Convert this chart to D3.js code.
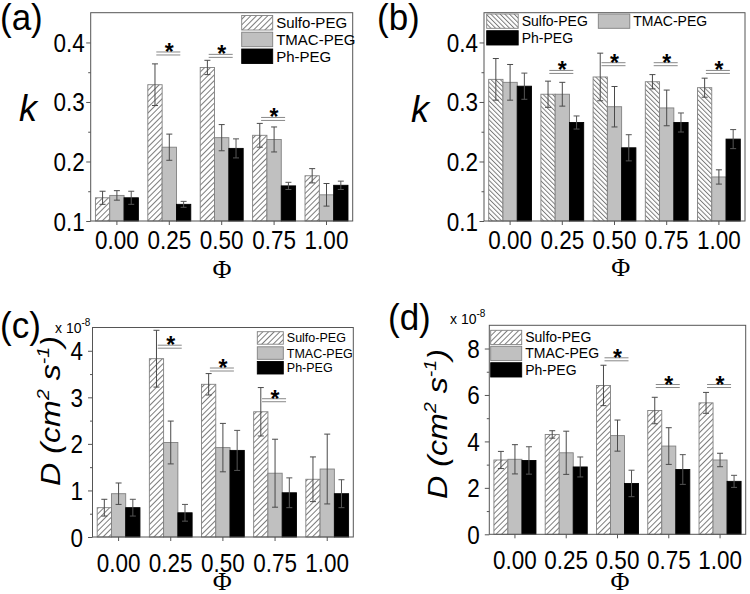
<!DOCTYPE html>
<html><head><meta charset="utf-8">
<script src="https://cdn.jsdelivr.net/npm/d3@7"></script>
<style>body{margin:0;background:#fff} svg{display:block;font-family:"Liberation Sans",Arial,sans-serif}</style>
</head><body><svg id="c" width="750" height="594"></svg>
<script>
// ---------- data ----------
const categories = ["0.00","0.25","0.50","0.75","1.00"];
const seriesNames = ["Sulfo-PEG","TMAC-PEG","Ph-PEG"];

// (a) k
const aSulfo = [0.139,0.329,0.358,0.244,0.176];
const aSulfoErr = [0.011,0.035,0.012,0.020,0.012];
const aTmac = [0.143,0.224,0.240,0.237,0.144];
const aTmacErr = [0.008,0.022,0.022,0.021,0.019];
const aPh = [0.139,0.128,0.222,0.159,0.160];
const aPhErr = [0.011,0.005,0.016,0.006,0.007];
const aSig = [[1,0.384],[2,0.380],[3,0.274]];
const aTicks = [0.1,0.2,0.3,0.4];
const aMinor = [0.15,0.25,0.35];

// (b) k
const bSulfo = [0.338,0.313,0.342,0.334,0.324];
const bSulfoErr = [0.035,0.022,0.040,0.012,0.016];
const bTmac = [0.333,0.313,0.292,0.290,0.174];
const bTmacErr = [0.030,0.020,0.034,0.030,0.012];
const bPh = [0.3265,0.2655,0.223,0.2655,0.2376];
const bPhErr = [0.022,0.011,0.022,0.016,0.016];
const bSig = [[1,0.353],[2,0.366],[3,0.366],[4,0.353]];
const bTicks = [0.1,0.2,0.3,0.4];
const bMinor = [0.15,0.25,0.35];

// (c) D x1e-8
const cSulfo = [0.63,3.83,3.28,2.69,1.24];
const cSulfoErr = [0.18,0.61,0.23,0.52,0.48];
const cTmac = [0.93,2.03,1.92,1.37,1.46];
const cTmacErr = [0.23,0.46,0.52,0.73,0.75];
const cPh = [0.63,0.52,1.86,0.95,0.93];
const cPhErr = [0.18,0.18,0.43,0.32,0.30];
const cSig = [[1,4.12],[2,3.63],[3,2.97]];
const cTicks = [0,1,2,3,4];
const cMinor = [0.5,1.5,2.5,3.5];

// (d) D x1e-8
const dSulfo = [3.20,4.30,6.41,5.33,5.66];
const dSulfoErr = [0.37,0.16,0.87,0.57,0.45];
const dTmac = [3.23,3.51,4.25,3.80,3.20];
const dTmacErr = [0.63,0.93,0.67,0.79,0.29];
const dPh = [3.18,2.90,2.19,2.79,2.28];
const dPhErr = [0.59,0.43,0.57,0.64,0.26];
const dSig = [[2,7.60],[3,6.45],[4,6.45]];
const dTicks = [0,2,4,6,8];
const dMinor = [1,3,5,7];

// ---------- setup ----------
const svg = d3.select("#c");
const defs = svg.append("defs");
function hatch(id, angle, spacing){
  const p = defs.append("pattern").attr("id",id).attr("patternUnits","userSpaceOnUse")
    .attr("width",spacing).attr("height",spacing).attr("patternTransform",`rotate(${angle})`);
  p.append("rect").attr("width",spacing).attr("height",spacing).attr("fill","#fff");
  p.append("line").attr("x1",0.5).attr("y1",-1).attr("x2",0.5).attr("y2",spacing+1)
    .attr("stroke","#6e6e6e").attr("stroke-width",0.9);
}
hatch("hatchF",45,4.0);
hatch("hatchB",-45,3.3);

const AX = "#555";
const TICKFS = 22.5;
const fills = (h)=>[`url(#${h})`,"#c0c0c0","#000"];

const panels = [
  {label:"(a)", lpos:[0,30], box:[90.7,12.7,352.7,221], domain:[0.1,0.45], ticks:aTicks, minor:aMinor, fmt:d3.format(".1f"),
   vals:[aSulfo,aTmac,aPh], errs:[aSulfoErr,aTmacErr,aPhErr], sig:aSig, hatch:"hatchF", tickPad:1.5, xlabDy:28,
   title:"k", tpos:[28,121], phi:[222,278],
   legend:{sw:31,sh:14.5,fs:15,items:[[241.7,15.5],[241.7,32.2],[241.7,49]]}},
  {label:"(b)", lpos:[377,30], box:[484,12.7,745,221], domain:[0.1,0.45], ticks:bTicks, minor:bMinor, fmt:d3.format(".1f"),
   vals:[bSulfo,bTmac,bPh], errs:[bSulfoErr,bTmacErr,bPhErr], sig:bSig, hatch:"hatchB", tickPad:1.5, xlabDy:28,
   title:"k", tpos:[420,122], phi:[620.7,276],
   legend:{sw:31.5,sh:14.3,fs:14,items:[[486.7,14],[598.3,14],[486.7,30.7]]}},
  {label:"(c)", lpos:[0,338], box:[92.5,327.5,353.3,537], domain:[0,4.5], ticks:cTicks, minor:cMinor, fmt:d3.format("d"),
   vals:[cSulfo,cTmac,cPh], errs:[cSulfoErr,cTmacErr,cPhErr], sig:cSig, hatch:"hatchF", tickPad:5, xlabDy:35,
   title:"D", tpos:[60,411], phi:[222.3,590], mult:[55,333],
   legend:{sw:26,sh:12.5,fs:12.5,items:[[257.3,331.7],[257.3,346.8],[257.3,361.5]]}},
  {label:"(d)", lpos:[388,330], box:[489.3,325.3,745.7,534.3], domain:[0,9], ticks:dTicks, minor:dMinor, fmt:d3.format("d"),
   vals:[dSulfo,dTmac,dPh], errs:[dSulfoErr,dTmacErr,dPhErr], sig:dSig, hatch:"hatchF", tickPad:5, xlabDy:35,
   title:"D", tpos:[446.7,424], phi:[620,590], mult:[450,324],
   legend:{sw:31,sh:14.3,fs:14,items:[[490.7,330.3],[490.7,346.3],[490.7,362.7]]}}
];

panels.forEach(P=>{
  const [x0,y0,x1,y1] = P.box;
  const g = svg.append("g");
  const x = d3.scaleBand().domain(categories).range([x0,x1]).paddingInner(0).paddingOuter(0);
  const bw = x.bandwidth();
  const xs = d3.scaleBand().domain(seriesNames).range([bw*0.09, bw*0.91]).padding(0);
  const y = d3.scaleLinear().domain(P.domain).range([y1,y0]);
  const F = fills(P.hatch);

  // bars
  seriesNames.forEach((s,si)=>{
    g.append("g").selectAll("rect").data(P.vals[si]).join("rect")
      .attr("x",(d,i)=>x(categories[i])+xs(s))
      .attr("y",d=>y(d))
      .attr("width",xs.bandwidth())
      .attr("height",d=>y(P.domain[0])-y(d))
      .attr("fill",F[si]).attr("stroke",si===2?"#000":"#808080").attr("stroke-width",0.9);
  });
  // error bars
  seriesNames.forEach((s,si)=>{
    const eg = g.append("g").attr("stroke", si===2?"#555":"#4a4a4a").attr("stroke-width",1).attr("fill","none");
    P.vals[si].forEach((v,i)=>{
      const e = P.errs[si][i];
      const cx = x(categories[i])+xs(s)+xs.bandwidth()/2;
      const ya = y(v+e), yb = y(v-e);
      eg.append("line").attr("x1",cx).attr("x2",cx).attr("y1",ya).attr("y2",yb);
      eg.append("line").attr("x1",cx-3).attr("x2",cx+3).attr("y1",ya).attr("y2",ya);
      eg.append("line").attr("x1",cx-3).attr("x2",cx+3).attr("y1",yb).attr("y2",yb);
    });
  });
  // significance markers
  P.sig.forEach(([ci,v])=>{
    const cx = x(categories[ci])+bw/2;
    const ly = y(v);
    g.append("line").attr("x1",cx-13).attr("x2",cx+11).attr("y1",ly).attr("y2",ly).attr("stroke","#888").attr("stroke-width",1);
    g.append("line").attr("x1",cx-13).attr("x2",cx+11).attr("y1",ly+3).attr("y2",ly+3).attr("stroke","#888").attr("stroke-width",1);
    g.append("text").attr("x",cx).attr("y",ly+8).attr("text-anchor","middle")
      .attr("font-size",23).attr("font-weight","bold").text("*");
  });

  // frame
  g.append("rect").attr("x",x0).attr("y",y0).attr("width",x1-x0).attr("height",y1-y0)
    .attr("fill","none").attr("stroke",AX).attr("stroke-width",1);

  // y axis (major + minor)
  const ya = g.append("g").attr("transform",`translate(${x0},0)`)
    .call(d3.axisLeft(y).tickValues(P.ticks).tickFormat(P.fmt).tickSize(4.5).tickPadding(P.tickPad));
  ya.select(".domain").remove();
  ya.selectAll(".tick line").attr("stroke",AX);
  ya.selectAll(".tick text").attr("font-family","Liberation Sans, Arial, sans-serif").attr("font-size",TICKFS)
    .attr("fill","#000").attr("dy",0).attr("y",0).attr("transform","translate(0,9) scale(1,1.12)");
  const ym = g.append("g").attr("transform",`translate(${x0},0)`)
    .call(d3.axisLeft(y).tickValues(P.minor).tickFormat("").tickSize(2.5));
  ym.select(".domain").remove();
  ym.selectAll(".tick line").attr("stroke",AX);

  // x axis
  const xa = g.append("g").attr("transform",`translate(0,${y1})`)
    .call(d3.axisBottom(x).tickSize(4));
  xa.select(".domain").remove();
  xa.selectAll(".tick line").attr("stroke",AX);
  xa.selectAll(".tick text").attr("font-family","Liberation Sans, Arial, sans-serif").attr("font-size",TICKFS)
    .attr("fill","#000").attr("dy",0).attr("y",0).attr("transform",`translate(0,${P.xlabDy}) scale(1,1.12)`);

  // legend
  const L = P.legend;
  seriesNames.forEach((s,si)=>{
    const [lx,ly] = L.items[si];
    g.append("rect").attr("x",lx).attr("y",ly).attr("width",L.sw).attr("height",L.sh)
      .attr("fill",F[si]).attr("stroke",si===2?"#000":"#808080").attr("stroke-width",0.9);
    g.append("text").attr("x",lx+L.sw+3.5).attr("y",ly+L.sh/2+L.fs*0.36)
      .attr("font-size",L.fs).attr("fill","#000").text(s);
  });

  // panel label
  svg.append("text").attr("x",P.lpos[0]).attr("y",P.lpos[1]).attr("font-size",35)
    .attr("transform",`translate(0,${-P.lpos[1]*0.06}) scale(1,1.06)`).text(P.label);

  // y title
  if(P.title==="k"){
    svg.append("text").attr("x",P.tpos[0]).attr("y",P.tpos[1]).attr("text-anchor","middle")
      .attr("font-size",36).attr("font-style","italic").text("k");
  } else {
    const t = svg.append("text").attr("text-anchor","middle").attr("font-size",28).attr("font-style","italic")
      .attr("transform",`translate(${P.tpos[0]},${P.tpos[1]}) scale(1,1.15) rotate(-90)`);
    t.append("tspan").text("D (cm");
    t.append("tspan").attr("font-size",17).attr("dy",-11).text("2");
    t.append("tspan").attr("dy",11).text(" s");
    t.append("tspan").attr("font-size",17).attr("dy",-11).text("-1");
    t.append("tspan").attr("dy",11).text(")");
    // multiplier
    const m = svg.append("text").attr("x",P.mult[0]).attr("y",P.mult[1]).attr("font-size",14);
    m.append("tspan").text("x 10");
    m.append("tspan").attr("font-size",10).attr("dy",-7).text("-8");
  }
  // Phi
  svg.append("text").attr("x",P.phi[0]).attr("y",P.phi[1]).attr("text-anchor","middle")
    .attr("font-family","Liberation Serif, Times New Roman, serif").attr("font-size",26).text("Φ");
});
</script></body></html>
